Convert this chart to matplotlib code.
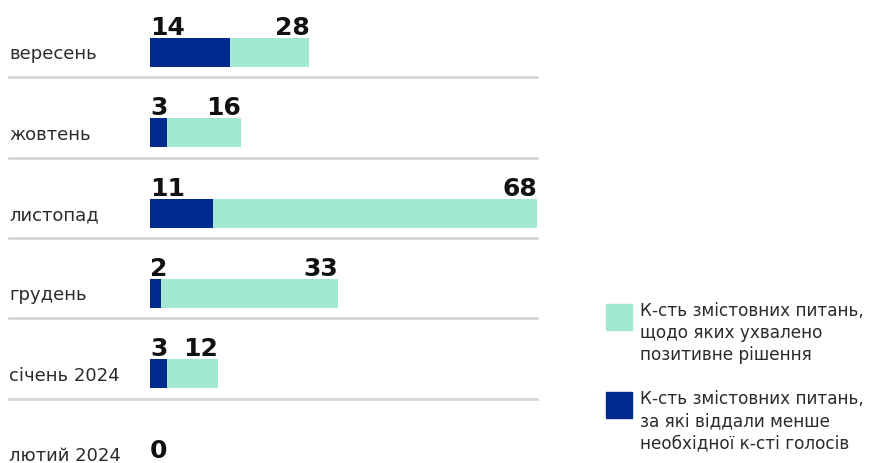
import matplotlib.pyplot as plt
from matplotlib.patches import Rectangle
from matplotlib.transforms import blended_transform_factory

months = ['вересень', 'жовтень', 'листопад', 'грудень', 'січень 2024', 'лютий 2024']
approved = [28, 16, 68, 33, 12, 0]
not_enough_votes = [14, 3, 11, 2, 3, 0]

legend_labels = [
    'К-сть змістовних питань,\nщодо яких ухвалено\nпозитивне рішення',
    'К-сть змістовних питань,\nза які віддали менше\nнеобхідної к-сті голосів',
]

light = '#a2e8d2'
dark = '#012a8f'

W, H = 870, 464
fig = plt.figure(figsize=(W / 100, H / 100), dpi=100)

# axes cover the bar area only: x from 150px to 537px
ax = fig.add_axes([150 / W, 0, 387 / W, 1])
ax.set_xlim(0, max(approved))
row0, step = 53.5, 80.3
ax.set_ylim((H - row0) / step, -row0 / step)
ax.axis('off')

rows = list(range(len(months)))
bar_h = 29 / step
ax.barh(rows, approved, height=bar_h, color=light, zorder=2)
ax.barh(rows, not_enough_votes, height=bar_h, color=dark, zorder=3)

lab = blended_transform_factory(fig.transFigure, ax.transData)
for i, m in enumerate(months):
    ax.text(9 / W, i + 0.01, m, transform=lab, ha='left', va='center',
            fontsize=13, color='#2b2b2b')
    if i < len(months) - 1:
        ax.plot([9 / W, 537 / W], [i + 0.31, i + 0.31], transform=lab,
                color='#d6d6d6', lw=2, clip_on=False, zorder=1)

num = dict(fontsize=18, fontweight='bold', color='#111111')
for i, (a, b) in enumerate(zip(approved, not_enough_votes)):
    top = i - bar_h / 2 - 4 / step
    if a == 0:
        ax.text(0, i - 0.05, str(a), ha='left', va='center', **num)
        continue
    ax.text(0, top, str(b), ha='left', va='baseline', **num)
    ax.text(a, top, str(a), ha='right', va='baseline', **num)

# legend
for (y0, c, txt) in [(305, light, legend_labels[0]), (393, dark, legend_labels[1])]:
    fig.patches.append(Rectangle((606 / W, 1 - (y0 + 26) / H), 26 / W, 26 / H,
                                 transform=fig.transFigure, color=c))
    fig.text(640 / W, 1 - (y0 - 3) / H, txt, ha='left', va='top',
             fontsize=12.2, color='#2b2b2b', linespacing=1.3)

fig.savefig('out.png', dpi=100)
